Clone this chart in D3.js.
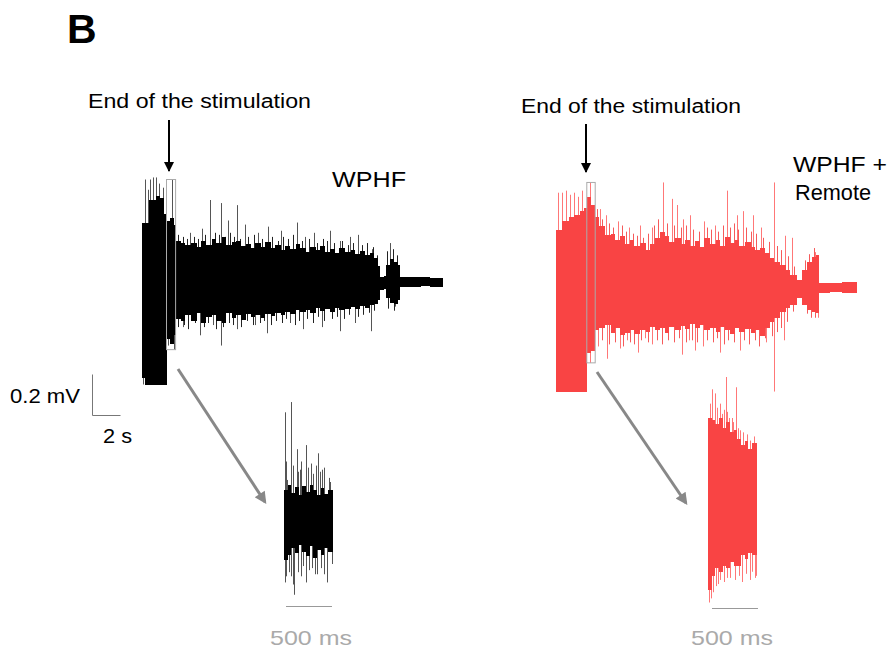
<!DOCTYPE html>
<html lang="en">
<head>
<meta charset="utf-8">
<title>WPHF vs WPHF + Remote</title>
<script src="https://d3js.org/d3.v7.min.js"></script>
<style>
  body { margin: 0; background: #fff; }
  svg { display: block; font-family: "Liberation Sans", Arial, sans-serif; }
</style>
</head>
<body>
<script>
// ---- WPHF trace (time in s, amplitude in mV) ----
const wphfT  = [0, 0.2, 0.5, 1.0, 1.3, 1.6, 1.75, 2.0, 2.3, 2.45, 2.8, 3.1, 3.5, 3.9, 4.2, 4.6, 5.0, 5.3, 5.7, 6.0, 6.4, 6.7, 7.1, 7.4, 7.8, 8.1, 8.5, 8.8, 9.2, 9.5, 9.9, 10.2, 10.6, 11.0, 11.3, 11.7, 12.0, 12.4, 12.7, 13.1, 13.4, 13.8, 14.1, 14.5, 14.9, 15.2, 15.6, 15.9, 16.3, 16.6, 16.85, 17.0, 17.3, 17.45, 17.7, 18.0, 18.3, 18.45, 19.1, 19.9, 20.6, 21.5];
const wphfHi = [0.29, 0.29, 0.40, 0.42, 0.41, 0.33, 0.30, 0.31, 0.28, 0.20, 0.19, 0.18, 0.19, 0.17, 0.20, 0.18, 0.21, 0.19, 0.22, 0.18, 0.195, 0.20, 0.175, 0.185, 0.165, 0.19, 0.17, 0.195, 0.165, 0.18, 0.155, 0.175, 0.16, 0.185, 0.165, 0.145, 0.17, 0.155, 0.175, 0.145, 0.16, 0.14, 0.165, 0.145, 0.155, 0.135, 0.15, 0.13, 0.14, 0.115, 0.08, 0.025, 0.03, 0.085, 0.11, 0.10, 0.085, 0.025, 0.022, 0.025, 0.02, 0.025];
const wphfLo = [-0.47, -0.50, -0.50, -0.50, -0.50, -0.50, -0.28, -0.30, -0.26, -0.18, -0.19, -0.16, -0.19, -0.15, -0.20, -0.17, -0.16, -0.19, -0.20, -0.15, -0.175, -0.16, -0.185, -0.155, -0.17, -0.16, -0.175, -0.155, -0.165, -0.15, -0.16, -0.145, -0.155, -0.135, -0.145, -0.135, -0.15, -0.125, -0.14, -0.13, -0.145, -0.125, -0.135, -0.13, -0.12, -0.13, -0.115, -0.125, -0.11, -0.105, -0.09, -0.04, -0.035, -0.08, -0.10, -0.105, -0.09, -0.025, -0.025, -0.02, -0.025, -0.025];
// large isolated spikes
const wphfSpikeT = [0.21, 0.43, 0.57, 0.79, 1.0, 1.18, 1.5, 2.14, 3.43, 4.29, 4.86, 5.64, 6.14, 6.79, 7.36, 8.29, 9.0, 9.93, 11.07, 11.64, 12.29, 13.43, 14.14, 14.86, 15.43, 16.43, 17.71,
                    0.07, 1.86, 2.29, 2.93, 4.14, 5.07, 5.64, 6.79, 8.07, 8.93, 10.57, 11.5, 12.86, 14.14, 15.21, 16.36, 18.07];
const wphfSpikeV = [0.50, 0.45, 0.50, 0.51, 0.51, 0.48, 0.46, 0.50, 0.24, 0.26, 0.40, 0.385, 0.30, 0.375, 0.28, 0.24, 0.27, 0.25, 0.29, 0.22, 0.24, 0.25, 0.20, 0.22, 0.23, 0.16, 0.19,
                    -0.50, -0.31, -0.33, -0.22, -0.26, -0.21, -0.31, -0.23, -0.21, -0.25, -0.20, -0.23, -0.22, -0.24, -0.20, -0.24, -0.12];
// smaller teeth along the envelope
const wphfTeethT = [2.6, 2.9, 3.2, 3.7, 4.0, 4.5, 5.2, 5.5, 5.9, 6.3, 6.6, 7.0, 7.6, 8.0, 8.6, 9.3, 9.7, 10.1, 10.4, 10.8, 11.4, 11.9, 12.5, 12.9, 13.2, 13.7, 14.3, 14.7, 15.1, 15.7, 16.1, 16.5, 16.8, 17.5, 17.9, 18.2,
                    2.6, 3.0, 3.3, 3.8, 4.4, 4.7, 5.3, 5.8, 6.2, 6.5, 7.1, 7.5, 7.9, 8.4, 8.7, 9.2, 9.6, 10.0, 10.3, 10.9, 11.2, 11.8, 12.2, 12.6, 13.0, 13.6, 13.9, 14.4, 14.8, 15.4, 15.8, 16.2, 16.6, 17.6, 18.0];
const wphfTeethV = [0.23, 0.22, 0.21, 0.22, 0.21, 0.23, 0.24, 0.23, 0.22, 0.24, 0.22, 0.21, 0.22, 0.23, 0.21, 0.22, 0.20, 0.22, 0.21, 0.23, 0.20, 0.21, 0.19, 0.21, 0.20, 0.19, 0.20, 0.18, 0.19, 0.18, 0.19, 0.17, 0.13, 0.15, 0.16, 0.13,
                    -0.22, -0.21, -0.23, -0.20, -0.22, -0.20, -0.23, -0.22, -0.20, -0.21, -0.22, -0.19, -0.21, -0.20, -0.19, -0.21, -0.19, -0.20, -0.18, -0.21, -0.19, -0.18, -0.20, -0.17, -0.19, -0.18, -0.17, -0.18, -0.16, -0.17, -0.16, -0.15, -0.14, -0.13, -0.14];

// ---- WPHF + Remote trace ----
const remoteT  = [0, 0.4, 0.9, 1.3, 1.7, 2.0, 2.2, 2.5, 2.8, 3.1, 3.5, 3.9, 4.2, 4.6, 4.9, 5.3, 5.6, 6.0, 6.4, 6.7, 7.1, 7.4, 7.8, 8.1, 8.5, 8.9, 9.2, 9.6, 9.9, 10.3, 10.6, 11.0, 11.4, 11.7, 12.1, 12.4, 12.8, 13.1, 13.5, 13.9, 14.2, 14.6, 14.9, 15.3, 15.6, 16.0, 16.4, 16.7, 17.2, 17.6, 17.9, 18.3, 18.6, 18.8, 19.6, 20.4, 21.5];
const remoteHi = [0.28, 0.32, 0.34, 0.35, 0.37, 0.385, 0.44, 0.40, 0.34, 0.30, 0.254, 0.26, 0.23, 0.25, 0.21, 0.23, 0.20, 0.215, 0.18, 0.21, 0.24, 0.27, 0.25, 0.22, 0.24, 0.21, 0.23, 0.20, 0.224, 0.195, 0.24, 0.21, 0.23, 0.20, 0.244, 0.215, 0.23, 0.20, 0.22, 0.195, 0.18, 0.19, 0.166, 0.14, 0.12, 0.107, 0.083, 0.059, 0.034, 0.083, 0.12, 0.146, 0.156, 0.02, 0.02, 0.025, 0.02];
const remoteLo = [-0.51, -0.51, -0.51, -0.51, -0.51, -0.51, -0.32, -0.31, -0.21, -0.20, -0.185, -0.224, -0.20, -0.234, -0.224, -0.21, -0.23, -0.21, -0.22, -0.195, -0.21, -0.20, -0.224, -0.195, -0.21, -0.19, -0.205, -0.18, -0.20, -0.185, -0.21, -0.20, -0.22, -0.195, -0.21, -0.23, -0.20, -0.22, -0.205, -0.224, -0.21, -0.24, -0.20, -0.17, -0.15, -0.12, -0.10, -0.088, -0.054, -0.088, -0.112, -0.12, -0.127, -0.03, -0.025, -0.03, -0.03];
const remoteSpikeT = [0.14, 0.43, 0.71, 1.0, 1.29, 1.57, 1.86, 2.43, 3.14, 3.57, 4.43, 5.21, 6.0, 6.86, 7.64, 8.29, 8.64, 9.07, 9.57, 10.57, 11.36, 12.21, 12.93, 13.36, 14.07, 14.64, 15.57, 16.36, 16.86, 18.5,
                      2.43, 3.0, 3.64, 4.57, 5.07, 5.86, 6.36, 6.86, 9.0, 9.5, 9.93, 10.5, 11.71, 13.14, 15.0, 15.57, 16.29, 18.71];
const remoteSpikeV = [0.46, 0.46, 0.47, 0.45, 0.46, 0.44, 0.47, 0.51, 0.38, 0.35, 0.32, 0.29, 0.30, 0.29, 0.51, 0.43, 0.40, 0.33, 0.35, 0.32, 0.30, 0.47, 0.35, 0.37, 0.35, 0.29, 0.51, 0.25, 0.24, 0.17,
                      -0.37, -0.29, -0.35, -0.30, -0.26, -0.32, -0.25, -0.28, -0.33, -0.26, -0.31, -0.29, -0.32, -0.31, -0.27, -0.51, -0.26, -0.15];
const remoteTeethT = [2.9, 3.3, 3.8, 4.1, 4.7, 5.0, 5.5, 5.8, 6.2, 6.6, 7.0, 7.3, 7.9, 8.4, 8.9, 9.3, 9.8, 10.2, 10.8, 11.1, 11.6, 11.9, 12.4, 12.7, 13.0, 13.6, 13.9, 14.3, 14.8, 15.2, 15.8, 16.1, 16.6, 17.0, 17.8, 18.1, 18.4,
                      3.3, 3.8, 4.2, 4.8, 5.3, 5.6, 6.1, 6.6, 7.2, 7.6, 8.0, 8.4, 8.8, 9.3, 9.7, 10.1, 10.8, 11.2, 11.5, 12.0, 12.3, 12.7, 13.4, 13.8, 14.2, 14.5, 14.9, 15.4, 15.8, 16.1, 16.5, 16.9, 17.9, 18.2, 18.5];
const remoteTeethV = [0.38, 0.33, 0.31, 0.29, 0.30, 0.27, 0.26, 0.25, 0.24, 0.26, 0.30, 0.33, 0.31, 0.30, 0.29, 0.30, 0.28, 0.27, 0.29, 0.28, 0.27, 0.30, 0.29, 0.31, 0.28, 0.29, 0.27, 0.26, 0.24, 0.22, 0.20, 0.18, 0.15, 0.10, 0.13, 0.16, 0.19,
                      -0.26, -0.28, -0.27, -0.29, -0.27, -0.28, -0.26, -0.27, -0.26, -0.28, -0.26, -0.27, -0.25, -0.27, -0.26, -0.27, -0.26, -0.27, -0.25, -0.28, -0.26, -0.27, -0.26, -0.28, -0.26, -0.29, -0.25, -0.24, -0.22, -0.20, -0.17, -0.12, -0.13, -0.15, -0.15];

// ---- 500 ms zoomed segments (time in ms) ----
const zoomT = [0, 40, 80, 120, 160, 200, 240, 280, 320, 360, 400, 440, 480, 533];
const wphfZoomHi = [0.16, 0.185, 0.146, 0.176, 0.137, 0.18, 0.15, 0.185, 0.16, 0.137, 0.17, 0.14, 0.16, 0.16];
const wphfZoomLo = [-0.18, -0.156, -0.12, -0.146, -0.107, -0.14, -0.16, -0.11, -0.17, -0.13, -0.156, -0.12, -0.14, -0.14];
const wphfZoomSpikeT = [11, 11, 33, 54, 76, 76, 114, 136, 174, 207, 239, 239, 272, 299, 337, 370, 413, 467, 500,
                        20, 95, 155, 190, 260, 320, 350, 395, 440, 485, 25, 95, 150, 190, 300, 355, 400, 430, 520];
const wphfZoomSpikeV = [0.54, -0.29, 0.21, -0.24, 0.59, -0.26, -0.35, 0.36, 0.26, -0.21, 0.38, -0.29, -0.23, 0.29, -0.25, 0.34, 0.26, -0.29, 0.20,
                        0.30, 0.28, 0.25, 0.30, 0.27, 0.24, 0.28, 0.25, 0.27, 0.22, -0.26, -0.30, -0.24, -0.26, -0.22, -0.25, -0.22, -0.25, -0.20];
const remoteZoomHi = [0.40, 0.39, 0.37, 0.40, 0.35, 0.38, 0.33, 0.34, 0.30, 0.27, 0.29, 0.25, 0.28, 0.28];
const remoteZoomLo = [-0.44, -0.37, -0.33, -0.35, -0.32, -0.33, -0.30, -0.32, -0.32, -0.27, -0.29, -0.26, -0.27, -0.27];
const remoteZoomSpikeT = [14, 40, 58, 76, 130, 130, 195, 203, 239, 275, 310, 330, 366, 384, 457, 457, 522,
                          20, 100, 150, 170, 225, 260, 300, 350, 420, 500, 30, 90, 110, 170, 210, 290, 340, 410, 480, 510];
const remoteZoomSpikeV = [-0.50, 0.54, -0.45, 0.52, 0.47, -0.39, 0.60, 0.43, -0.38, 0.38, 0.55, 0.35, -0.40, 0.33, 0.29, -0.39, -0.37,
                          0.47, 0.45, 0.42, 0.44, 0.40, 0.40, 0.36, 0.34, 0.32, 0.31, -0.48, -0.42, -0.41, -0.40, -0.38, -0.39, -0.37, -0.36, -0.35, -0.38];

const w = 891, h = 648;
const red = "#f94444";
const pxPerMv = 205;

const svg = d3.select("body").append("svg").attr("width", w).attr("height", h);

// scales
const xL = d3.scaleLinear().domain([0, 21.5]).range([142, 443]);
const yL = d3.scaleLinear().domain([-1, 1]).range([282 + pxPerMv, 282 - pxPerMv]);
const xR = d3.scaleLinear().domain([0, 21.5]).range([556, 857]);
const yR = d3.scaleLinear().domain([-1, 1]).range([287 + pxPerMv, 287 - pxPerMv]);
const xZL = d3.scaleLinear().domain([0, 533]).range([284, 333]);
const yZL = d3.scaleLinear().domain([-1, 1]).range([523 + pxPerMv, 523 - pxPerMv]);
const xZR = d3.scaleLinear().domain([0, 533]).range([708, 757]);
const yZR = d3.scaleLinear().domain([-1, 1]).range([500 + pxPerMv, 500 - pxPerMv]);

function drawSpikes(x, y, sT, sV, color) {
  svg.append("g").selectAll("line")
    .data(sT)
    .join("line")
    .attr("x1", d => Math.round(x(d)) + 0.5)
    .attr("x2", d => Math.round(x(d)) + 0.5)
    .attr("y1", y(0))
    .attr("y2", (d, i) => y(sV[i]))
    .attr("stroke", color)
    .attr("stroke-width", 1);
}

function drawBody(x, y, T, Hi, Lo, fill) {
  const area = d3.area()
    .x(d => x(d))
    .y0((d, i) => y(Lo[i]))
    .y1((d, i) => y(Hi[i]))
    .curve(d3.curveStepAfter);
  svg.append("path")
    .datum(T)
    .attr("d", area)
    .attr("fill", fill)
    .attr("shape-rendering", "crispEdges");
}

// WPHF
drawSpikes(xL, yL, wphfSpikeT, wphfSpikeV, "#555");
drawSpikes(xL, yL, wphfTeethT, wphfTeethV, "#222");
drawBody(xL, yL, wphfT, wphfHi, wphfLo, "#000");
// WPHF + Remote
drawSpikes(xR, yR, remoteSpikeT, remoteSpikeV, "#f77");
drawSpikes(xR, yR, remoteTeethT, remoteTeethV, "#f65a5a");
drawBody(xR, yR, remoteT, remoteHi, remoteLo, red);
// zoomed segments
drawSpikes(xZL, yZL, wphfZoomSpikeT, wphfZoomSpikeV, "#555");
drawBody(xZL, yZL, zoomT, wphfZoomHi, wphfZoomLo, "#000");
drawSpikes(xZR, yZR, remoteZoomSpikeT, remoteZoomSpikeV, "#f77");
drawBody(xZR, yZR, zoomT, remoteZoomHi, remoteZoomLo, red);

// boxes marking the zoomed window
svg.append("rect")
  .attr("x", xL(1.75)).attr("y", yL(0.50))
  .attr("width", xL(2.4) - xL(1.75)).attr("height", yL(-0.33) - yL(0.50))
  .attr("fill", "none").attr("stroke", "#aaa").attr("stroke-width", 1);
svg.append("rect")
  .attr("x", xR(2.2)).attr("y", yR(0.51))
  .attr("width", xR(2.8) - xR(2.2)).attr("height", yR(-0.37) - yR(0.51))
  .attr("fill", "none").attr("stroke", "#aaa").attr("stroke-width", 1);

// arrow markers
const defs = svg.append("defs");
defs.append("marker").attr("id", "headBlack")
  .attr("viewBox", "0 0 10 10").attr("refX", 9).attr("refY", 5)
  .attr("markerUnits", "userSpaceOnUse").attr("markerWidth", 10).attr("markerHeight", 10)
  .attr("orient", "auto")
  .append("path").attr("d", "M0,0 L10,5 L0,10 Z").attr("fill", "#000");
defs.append("marker").attr("id", "headGray")
  .attr("viewBox", "0 0 10 10").attr("refX", 8).attr("refY", 5)
  .attr("markerUnits", "userSpaceOnUse").attr("markerWidth", 14).attr("markerHeight", 12)
  .attr("orient", "auto")
  .append("path").attr("d", "M0,0 L10,5 L0,10 Z").attr("fill", "#888");

// "End of the stimulation" arrows
svg.append("line").attr("x1", 169).attr("y1", 120).attr("x2", 169).attr("y2", 171)
  .attr("stroke", "#000").attr("stroke-width", 2).attr("marker-end", "url(#headBlack)");
svg.append("line").attr("x1", 586).attr("y1", 124).attr("x2", 586).attr("y2", 172)
  .attr("stroke", "#000").attr("stroke-width", 2).attr("marker-end", "url(#headBlack)");

// gray zoom arrows
svg.append("line").attr("x1", 178).attr("y1", 369).attr("x2", 265).attr("y2", 502)
  .attr("stroke", "#888").attr("stroke-width", 3).attr("marker-end", "url(#headGray)");
svg.append("line").attr("x1", 597).attr("y1", 372).attr("x2", 686).attr("y2", 503)
  .attr("stroke", "#888").attr("stroke-width", 3).attr("marker-end", "url(#headGray)");

// scale bars
const sb = svg.append("g").attr("stroke", "#777").attr("stroke-width", 1).attr("fill", "none");
const sbX = 92.5, sbY = 415.5;
sb.append("path").attr("d",
  `M${sbX},${sbY - (yL(0) - yL(0.2))} V${sbY} H${sbX + (xL(2) - xL(0))}`);
svg.append("line").attr("x1", xZL(0) + 2).attr("x2", xZL(500) + 2).attr("y1", 606.5).attr("y2", 606.5)
  .attr("stroke", "#999").attr("stroke-width", 1.2);
svg.append("line").attr("x1", xZR(0) + 4).attr("x2", xZR(500) + 4).attr("y1", 608.5).attr("y2", 608.5)
  .attr("stroke", "#999").attr("stroke-width", 1.2);

// texts
function label(txt, x, y, size, opts = {}) {
  const t = svg.append("text").attr("x", x).attr("y", y)
    .attr("font-size", size).attr("fill", opts.fill || "#000")
    .attr("font-weight", opts.bold ? "bold" : "normal")
    .text(txt);
  if (opts.len) t.attr("textLength", opts.len).attr("lengthAdjust", "spacingAndGlyphs");
  return t;
}
label("B", 67, 43, 41, { bold: true });
label("End of the stimulation", 88, 108, 20, { len: 223 });
label("End of the stimulation", 521, 113, 20, { len: 220 });
label("WPHF", 332, 187, 22, { len: 74 });
label("WPHF +", 793, 172, 22, { len: 94 });
label("Remote", 795, 200, 22, { len: 76 });
label("0.2 mV", 10, 403, 21, { len: 70 });
label("2 s", 103, 443, 20, { len: 29 });
label("500 ms", 270, 645, 21, { fill: "#aaa", len: 82 });
label("500 ms", 691, 645, 21, { fill: "#aaa", len: 82 });
</script>
</body>
</html>
